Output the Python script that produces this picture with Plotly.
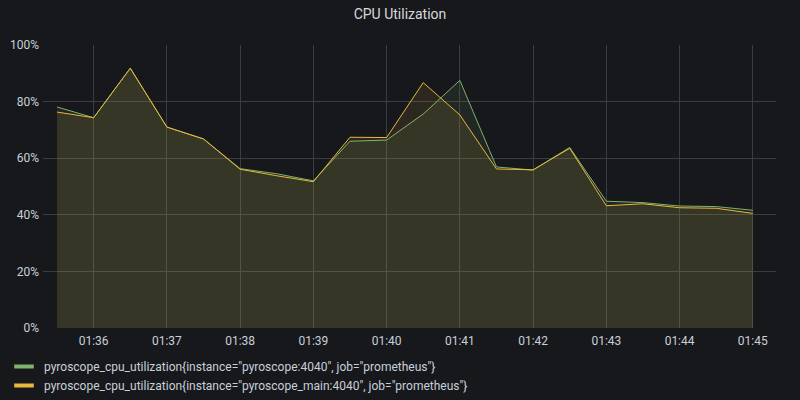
import plotly.graph_objects as go
import pandas as pd

times = pd.date_range("2021-01-01 01:35:30", "2021-01-01 01:45:00", freq="30s")
series_names = [
    'pyroscope_cpu_utilization{instance="pyroscope:4040", job="prometheus"}',
    'pyroscope_cpu_utilization{instance="pyroscope_main:4040", job="prometheus"}',
]
green_vals = [78.1, 74.3, 91.8, 71.0, 66.8, 56.3, 54.5, 52.0, 66.0, 66.4,
              75.6, 87.5, 56.9, 55.8, 63.8, 44.8, 44.3, 43.1, 42.9, 41.6]
yellow_vals = [76.3, 74.3, 91.8, 71.0, 66.8, 56.1, 53.8, 51.7, 67.4, 67.3,
               86.7, 75.3, 56.2, 55.9, 63.5, 43.2, 43.9, 42.5, 42.3, 40.5]
colors = ["#7EB26D", "#EAB839"]
fills = ["rgba(126,178,109,0.1)", "rgba(234,184,57,0.1)"]
y_ticks = [0, 20, 40, 60, 80, 100]
y_tick_labels = [f"{v}%" for v in y_ticks]

fig = go.Figure()
for name, vals, c, f in zip(series_names, [green_vals, yellow_vals], colors, fills):
    fig.add_trace(go.Scatter(x=times, y=vals, mode="lines", line=dict(color=c, width=1),
                             fill="tozeroy", fillcolor=f, showlegend=False, hoverinfo="skip"))
for name, c in zip(series_names, colors):
    fig.add_trace(go.Scatter(x=[None], y=[None], mode="markers", name=name,
                             marker=dict(symbol="line-ew", size=14, color=c,
                                         line=dict(color=c, width=4))))

grid = "#3c3d42"
fig.update_layout(
    width=800, height=400,
    paper_bgcolor="#17181c", plot_bgcolor="#17181c",
    margin=dict(l=43, r=24, t=45, b=72, autoexpand=False),
    font=dict(family="Roboto, sans-serif", size=12, color="#c7d0d9"),
    title=dict(text="CPU Utilization", x=0.5, xanchor="center", y=1 - 14 / 400,
               yref="container", yanchor="middle",
               font=dict(size=14, color="#d8d9da", family="Roboto, sans-serif")),
    xaxis=dict(range=["2021-01-01 01:35:18.5", "2021-01-01 01:45:19"],
               tickformat="%H:%M", dtick=60000, tick0="2021-01-01 01:36:00",
               tickangle=0, automargin=False,
               showgrid=True, gridcolor=grid, gridwidth=1, zeroline=False,
               showline=False, ticks="", ticklabelstandoff=4),
    yaxis=dict(range=[0, 100], tickvals=y_ticks, ticktext=y_tick_labels,
               automargin=False,
               showgrid=True, gridcolor=grid, gridwidth=1, zeroline=False,
               showline=False, ticks="", ticklabelstandoff=3),
    legend=dict(orientation="v", x=0.005, xref="container", xanchor="left",
                y=1 - 352 / 400, yref="container", yanchor="top",
                bgcolor="rgba(0,0,0,0)", font=dict(size=12, color="#c7d0d9"),
                tracegroupgap=0, itemwidth=30),
    showlegend=True,
)
fig.write_html("out.html")
